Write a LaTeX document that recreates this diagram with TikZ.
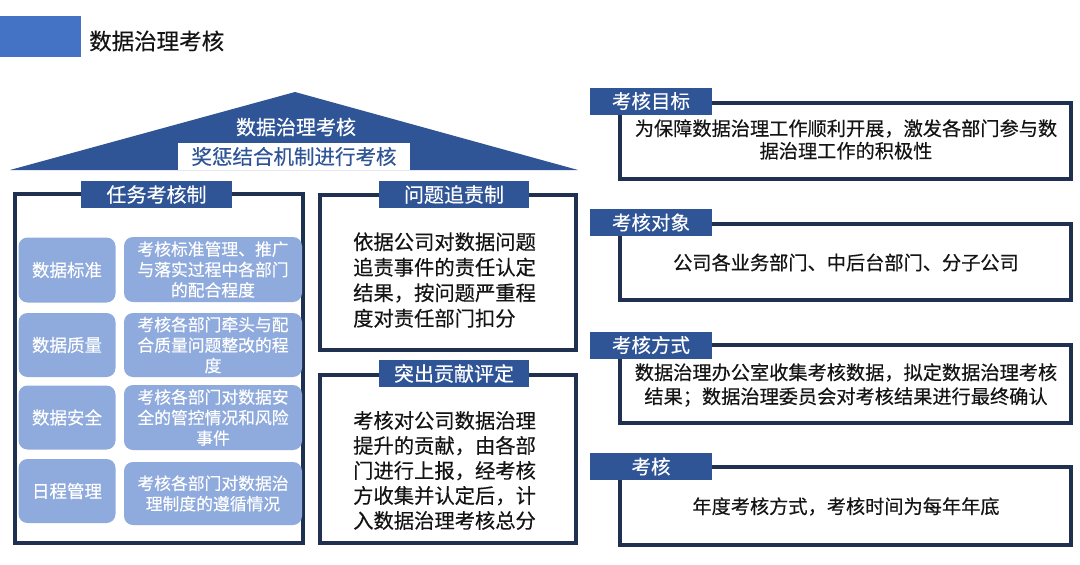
\documentclass[tikz,border=0pt]{standalone}
\usepackage{fontspec}
\setmainfont{Noto Sans CJK SC}[FakeBold=0.35]
\definecolor{tabblue}{RGB}{47,85,151}
\definecolor{navy}{RGB}{32,48,80}
\definecolor{cellblue}{RGB}{143,170,220}
\definecolor{headblue}{RGB}{68,114,196}
\definecolor{ink}{RGB}{20,20,20}
\newcommand\myfs[2]{\fontsize{#1}{#2}\selectfont}
\tikzset{
  panel/.style={draw=navy, line width=4pt, fill=white, inner sep=0pt},
  tabbox/.style={fill=tabblue, text=white, inner sep=0pt, font=\myfs{19.5}{22}},
  cell/.style={fill=cellblue, rounded corners=9pt, text=white, inner sep=0pt},
  bodytext/.style={text=ink, inner sep=0pt},
}
\begin{document}
\begin{tikzpicture}[x=1pt,y=-1pt]
\useasboundingbox (0,0) rectangle (1080,565);
\fill[white] (0,0) rectangle (1080,565);

% heading
\node[fill=headblue, minimum width=81, minimum height=41, inner sep=0pt, anchor=north west] (hbar) at (0,16) {};
\node[text=ink, anchor=west, inner sep=0pt, font=\myfs{22.5}{26}] (htitle) at (89,41) {数据治理考核};

% roof
\fill[tabblue] (10,170) -- (295,92) -- (578,170) -- cycle;
\node[text=white, inner sep=0pt, font=\myfs{20}{24}] (rooft) at (296,127) {数据治理考核};
\node[fill=white, minimum width=232, minimum height=27, inner sep=0pt, text=tabblue, font=\myfs{20.5}{24}] (roofb) at (294,156.5) {奖惩结合机制进行考核};

% left panel
\node[panel, minimum width=288, minimum height=349] (p1) at (159,368.5) {};
\node[tabbox, minimum width=151, minimum height=27, font=\myfs{20}{24}] (tab1) at (156.5,194.5) {任务考核制};

\node[cell, minimum width=97, minimum height=65, font=\myfs{17.5}{21}] (c1a) at (67,270) {数据标准};
\node[cell, minimum width=178, minimum height=65, font=\myfs{16.8}{20.5}, align=center] (c1b) at (213,269.5) {考核标准管理、推广\\与落实过程中各部门\\的配合程度};
\node[cell, minimum width=97, minimum height=64, font=\myfs{17.5}{21}] (c2a) at (67,345) {数据质量};
\node[cell, minimum width=178, minimum height=64, font=\myfs{16.8}{20.5}, align=center] (c2b) at (213,345) {考核各部门牵头与配\\合质量问题整改的程\\度};
\node[cell, minimum width=97, minimum height=64, font=\myfs{17.5}{21}] (c3a) at (67,417.5) {数据安全};
\node[cell, minimum width=178, minimum height=65, font=\myfs{16.8}{20.5}, align=center] (c3b) at (213,417.5) {考核各部门对数据安\\全的管控情况和风险\\事件};
\node[cell, minimum width=97, minimum height=64, font=\myfs{17.5}{21}] (c4a) at (67,491) {日程管理};
\node[cell, minimum width=178, minimum height=63, font=\myfs{16.8}{20.5}, align=center] (c4b) at (213,493.5) {考核各部门对数据治\\理制度的遵循情况};

% middle top panel
\node[panel, minimum width=256, minimum height=155] (p2) at (447.5,272) {};
\node[tabbox, minimum width=150, minimum height=27, font=\myfs{20}{24}] (tab2) at (454,194.5) {问题追责制};
\node[bodytext, anchor=west, align=left, font=\myfs{20.3}{25.5}] (t2) at (353,280) {依据公司对数据问题\\追责事件的责任认定\\结果，按问题严重程\\度对责任部门扣分};

% middle bottom panel
\node[panel, minimum width=256, minimum height=168] (p3) at (447.5,459) {};
\node[tabbox, minimum width=150, minimum height=27, font=\myfs{20}{24}] (tab3) at (454,373.5) {突出贡献评定};
\node[bodytext, anchor=west, align=left, font=\myfs{20.3}{25}] (t3) at (353,470.5) {考核对公司数据治理\\提升的贡献，由各部\\门进行上报，经考核\\方收集并认定后，计\\入数据治理考核总分};

% right panels
\node[panel, minimum width=451, minimum height=76] (r1) at (845.5,140.5) {};
\node[tabbox, minimum width=122, minimum height=27] (rt1) at (651,101) {考核目标};
\node[bodytext, align=center, font=\myfs{19.2}{22.5}] (rx1) at (846,139.5) {为保障数据治理工作顺利开展，激发各部门参与数\\据治理工作的积极性};

\node[panel, minimum width=451, minimum height=76] (r2) at (845.5,262) {};
\node[tabbox, minimum width=122, minimum height=27] (rt2) at (651,222.5) {考核对象};
\node[bodytext, align=center, font=\myfs{19.2}{22.5}] (rx2) at (846,262.5) {公司各业务部门、中后台部门、分子公司};

\node[panel, minimum width=451, minimum height=78] (r3) at (845.5,384) {};
\node[tabbox, minimum width=122, minimum height=27] (rt3) at (651,345) {考核方式};
\node[bodytext, align=center, font=\myfs{19.2}{24}] (rx3) at (846,385) {数据治理办公室收集考核数据，拟定数据治理考核\\结果；数据治理委员会对考核结果进行最终确认};

\node[panel, minimum width=451, minimum height=78] (r4) at (845.5,506) {};
\node[tabbox, minimum width=122, minimum height=27] (rt4) at (651,466.5) {考核};
\node[bodytext, align=center, font=\myfs{19.2}{22.5}] (rx4) at (846,506.5) {年度考核方式，考核时间为每年年底};

\end{tikzpicture}
\end{document}
